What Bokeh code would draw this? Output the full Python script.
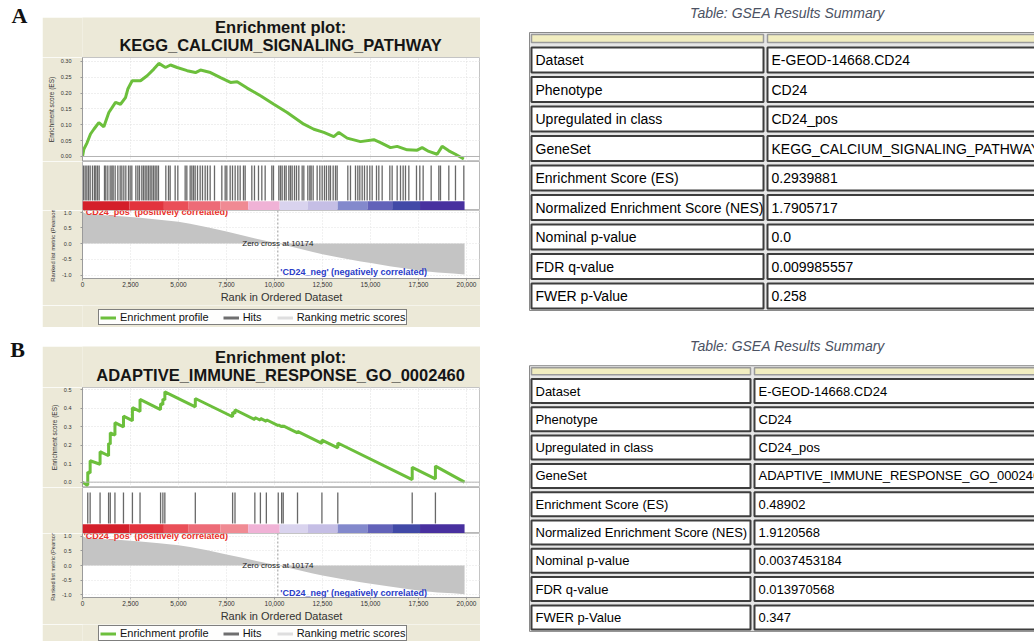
from bokeh.plotting import figure
from bokeh.layouts import column, row
from bokeh.models import (Range1d, FixedTicker, PrintfTickFormatter, NumeralTickFormatter,
                          Span, Label, Legend, LegendItem, Spacer)
from bokeh.core.properties import value
from bokeh.embed import file_html
from bokeh.resources import INLINE

# ---------------- data ----------------
rank_ticks = [0, 2500, 5000, 7500, 10000, 12500, 15000, 17500, 20000]
zero_cross = 10174

es_a_rank = [0, 69, 243, 417, 590, 851, 1111, 1372, 1719, 1979, 2240, 2361, 2587, 3021, 3368,
             3715, 3976, 4323, 4583, 4931, 5451, 5885, 6146, 6667, 7188, 7708, 8056, 8576, 9271, 9965,
             10660, 11528, 12049, 12569, 13090, 13351, 13785, 14479, 15174, 15521, 16042, 16389, 16910,
             17431, 17691, 18038, 18472, 18733, 19080, 19427, 19861]
es_a_val = [0.0, 0.023, 0.044, 0.071, 0.086, 0.107, 0.094, 0.139, 0.171, 0.165, 0.186, 0.213, 0.239, 0.239,
            0.255, 0.276, 0.294, 0.281, 0.289, 0.281, 0.271, 0.265, 0.273, 0.265, 0.249, 0.234, 0.236, 0.216,
            0.192, 0.165, 0.139, 0.102, 0.086, 0.076, 0.063, 0.076, 0.058, 0.047, 0.053, 0.044, 0.028, 0.032,
            0.021, 0.020, 0.028, 0.016, 0.007, 0.032, 0.018, 0.007, -0.008]

hits_a = [52, 139, 226, 313, 399, 521, 625, 694, 781, 868, 1146, 1215, 1319, 1441, 1528, 1597, 1701, 1840,
          1962, 2049, 2153, 2257, 2396, 2483, 2569, 2778, 2882, 2969, 3090, 3177, 3264, 3351, 3438, 3524,
          3611, 3698, 3785, 3871, 3958, 4340, 4479, 4566, 4826, 4965, 5347, 5434, 5608, 5694, 5781, 5868,
          5990, 6128, 6250, 6389, 6510, 6649, 6875, 7257, 7431, 7517, 7691, 7813, 7951, 8090, 8212, 8385,
          8472, 8819, 8958, 9167, 9340, 9514, 9861, 9948, 10226, 10313, 10399, 10521, 10608, 10747, 10833,
          10920, 11042, 11146, 11267, 11441, 11528, 11736, 11840, 11910, 12014, 12222, 12361, 12483, 12604,
          12708, 12830, 12917, 13056, 13177, 13264, 13819, 13958, 14219, 14340, 14444, 14566, 14688, 14826,
          14965, 15087, 15313, 15434, 15608, 16007, 16128, 16389, 16563, 16701, 16823, 16997, 17396, 17569,
          17743, 18160, 18559, 18646, 19080, 19427, 19861]

es_b_rank = [0, 222, 274, 274, 398, 398, 915, 915, 1359, 1359, 1447, 1447, 1690, 1690, 2134, 2134, 2600, 2600,
             2997, 2997, 4067, 4067, 4186, 4186, 4289, 4289, 5876, 5876, 7819, 7819, 7943, 7943, 8977, 8977,
             9266, 9266, 9576, 9576, 10196, 10196, 10372, 10372, 10455, 10455, 11199, 11199, 12470, 12470,
             13297, 13297, 17173, 17173, 18382, 18382, 19900]
es_b_val = [0.0, -0.015, -0.016, 0.055, 0.049, 0.116, 0.097, 0.165, 0.143, 0.21, 0.205, 0.267, 0.255, 0.322,
            0.299, 0.357, 0.333, 0.403, 0.383, 0.448, 0.393, 0.425, 0.419, 0.45, 0.445, 0.489, 0.408, 0.453,
            0.354, 0.378, 0.372, 0.392, 0.339, 0.35, 0.335, 0.345, 0.329, 0.338, 0.306, 0.31, 0.301, 0.305,
            0.301, 0.305, 0.267, 0.275, 0.21, 0.228, 0.186, 0.212, 0.014, 0.08, 0.018, 0.087, 0.0]

hits_b = [274, 398, 915, 1359, 1447, 1690, 2134, 2600, 2997, 4067, 4186, 4289, 5876, 7819, 7943, 8977, 9266,
          9576, 10196, 10372, 10455, 11199, 12470, 13297, 17173, 18382]

metric_rank = [0, 200, 1000, 2000, 3000, 4000, 5000, 5600, 6500, 7500, 8200, 9000, 10174, 11000, 12000,
               12500, 13500, 14500, 15100, 16000, 17000, 17700, 18500, 19300, 19900]
metric_val = [1.0, 0.95, 0.91, 0.87, 0.82, 0.76, 0.69, 0.63, 0.52, 0.38, 0.28, 0.16, 0.0, -0.12, -0.27,
              -0.34, -0.46, -0.57, -0.63, -0.72, -0.81, -0.87, -0.92, -0.95, -0.98]

cb_edges = [0, 2450, 4240, 5530, 7180, 8630, 10270, 11740, 13290, 14840, 16130, 17580, 19900]
cb_colors = ["#d41f2a", "#e2333d", "#ea4f58", "#ed6b77", "#f08a93", "#f0b2d6",
             "#d9d3ee", "#c5bee5", "#8389cc", "#6262b9", "#4149a7", "#48309f"]

legend_labels = ["Enrichment profile", "Hits", "Ranking metric scores"]

table_labels = ["Dataset", "Phenotype", "Upregulated in class", "GeneSet", "Enrichment Score (ES)",
                "Normalized Enrichment Score (NES)", "Nominal p-value", "FDR q-value", "FWER p-Value"]
table_a_values = ["E-GEOD-14668.CD24", "CD24", "CD24_pos", "KEGG_CALCIUM_SIGNALING_PATHWAY", "0.2939881",
                  "1.7905717", "0.0", "0.009985557", "0.258"]
table_b_values = ["E-GEOD-14668.CD24", "CD24", "CD24_pos", "ADAPTIVE_IMMUNE_RESPONSE_GO_0002460", "0.48902",
                  "1.9120568", "0.0037453184", "0.013970568", "0.347"]

# ---------------- style ----------------
BEIGE = "#ECE9D8"
GREEN = "#6cbf3c"
FONT = "Liberation Sans"
CW = 438      # chart block width
LB = 40       # left border of chart frames
XMAX = 20730
TW = 514      # table block width
NAN = float("nan")


def fig(w, h, xr, yr, **kw):
    return figure(width=w, height=h, x_range=xr, y_range=yr, toolbar_location=None,
                  output_backend="svg", **kw)


def blank(p, bg):
    p.grid.visible = False
    p.outline_line_color = None
    p.background_fill_color = bg
    p.border_fill_color = bg


def title_fig(h, t1, t2, y1, y2):
    p = fig(CW, h, Range1d(0, CW), Range1d(h, 0), x_axis_location=None, y_axis_location=None, min_border=0)
    blank(p, BEIGE)
    p.text(x=[218, 218], y=[y1, y2], text=[t1, t2], text_font=value(FONT), text_font_style="bold",
           text_font_size="16.5px", text_align="center", text_baseline="middle", text_color="#151515")
    return p


def style_yaxis(p, label, label_size):
    ax = p.yaxis[0]
    ax.axis_label = label
    ax.axis_label_text_font = FONT
    ax.axis_label_text_font_size = label_size
    ax.axis_label_text_font_style = "normal"
    ax.axis_label_text_color = "#333333"
    ax.axis_label_standoff = 3
    ax.major_label_text_font = FONT
    ax.major_label_text_font_size = "5.5px"
    ax.major_label_text_color = "#333333"
    ax.major_label_standoff = 9
    ax.major_tick_in = 0
    ax.major_tick_out = 2
    ax.minor_tick_line_color = None
    ax.axis_line_color = "#9a9a9a"
    ax.major_tick_line_color = "#9a9a9a"


def es_fig(h, xr, ylo, yhi, ranks, vals, ticks, fmt):
    p = fig(CW, h, xr, Range1d(ylo, yhi), x_axis_location=None, min_border=0, min_border_left=LB)
    p.background_fill_color = "white"
    p.border_fill_color = BEIGE
    p.outline_line_color = "#c4c4c4"
    p.yaxis.ticker = FixedTicker(ticks=ticks)
    p.yaxis.formatter = PrintfTickFormatter(format=fmt)
    style_yaxis(p, "Enrichment score (ES)", "6.5px")
    p.xgrid.ticker = FixedTicker(ticks=rank_ticks)
    p.xgrid.grid_line_color = "#dedede"
    p.xgrid.grid_line_dash = "1 2"
    p.ygrid.ticker = FixedTicker(ticks=ticks)
    p.ygrid.grid_line_color = "#dedede"
    p.ygrid.grid_line_dash = "1 2"
    p.add_layout(Span(location=0, dimension="width", line_color="#b4b4b4", line_width=1))
    p.line(ranks, vals, line_color=GREEN, line_width=3)
    return p


def hits_fig(h, xr, hits, top, bot, cbtop):
    p = fig(CW, h, xr, Range1d(0, 1), x_axis_location=None, y_axis_location=None,
            min_border=0, min_border_left=LB)
    p.grid.visible = False
    p.background_fill_color = "white"
    p.border_fill_color = BEIGE
    p.outline_line_color = "#b8b8b8"
    p.segment(x0=hits, y0=bot, x1=hits, y1=top, line_color="#202020", line_alpha=0.68, line_width=1.3)
    p.quad(left=cb_edges[:-1], right=cb_edges[1:], bottom=0, top=cbtop, fill_color=cb_colors,
           line_color=None)
    return p


def metric_fig(h, xr, ylo, yhi, bottom, ypos, yneg, label_size):
    p = fig(CW, h, xr, Range1d(ylo, yhi), min_border=0, min_border_left=LB, min_border_bottom=bottom)
    p.background_fill_color = "white"
    p.border_fill_color = BEIGE
    p.outline_line_color = "#c4c4c4"
    p.yaxis.ticker = FixedTicker(ticks=[-1, -0.5, 0, 0.5, 1])
    p.yaxis.formatter = PrintfTickFormatter(format="%.1f")
    style_yaxis(p, "Ranked list metric (Pearson)", label_size)
    ax = p.xaxis[0]
    ax.ticker = FixedTicker(ticks=rank_ticks)
    ax.formatter = NumeralTickFormatter(format="0,0")
    ax.major_label_text_font = FONT
    ax.major_label_text_font_size = "6.5px"
    ax.major_label_text_color = "#333333"
    ax.major_label_standoff = 1
    ax.major_tick_in = 0
    ax.major_tick_out = 2
    ax.minor_tick_line_color = None
    ax.axis_line_color = "#9a9a9a"
    ax.major_tick_line_color = "#9a9a9a"
    ax.axis_label = "Rank in Ordered Dataset"
    ax.axis_label_text_font = FONT
    ax.axis_label_text_font_size = "11px"
    ax.axis_label_text_font_style = "normal"
    ax.axis_label_text_color = "#333333"
    ax.axis_label_standoff = 1
    p.xgrid.ticker = FixedTicker(ticks=rank_ticks)
    p.xgrid.grid_line_color = "#e2e2e2"
    p.xgrid.grid_line_dash = "1 2"
    p.ygrid.grid_line_color = "#e2e2e2"
    p.ygrid.grid_line_dash = "1 2"
    p.varea(x=metric_rank, y1=0, y2=metric_val, fill_color="#c4c4c4")
    p.add_layout(Span(location=zero_cross, dimension="height", line_color="#9a9a9a",
                      line_dash="2 2", line_width=1))
    p.add_layout(Label(x=60, y=ypos, text="'CD24_pos' (positively correlated)", text_font=FONT,
                       text_font_size="9px", text_font_style="bold", text_color="#e8302a",
                       text_baseline="middle"))
    p.add_layout(Label(x=zero_cross, y=0, text="Zero cross at 10174", text_font=FONT,
                       text_font_size="8px", text_color="#222222", text_align="center",
                       text_baseline="middle"))
    p.add_layout(Label(x=10300, y=yneg, text="'CD24_neg' (negatively correlated)", text_font=FONT,
                       text_font_size="9px", text_font_style="bold", text_color="#2a3cc8",
                       text_baseline="middle"))
    return p


def legend_fig(h, lx, ly):
    p = fig(CW, h, Range1d(0, 1), Range1d(0, 1), x_axis_location=None, y_axis_location=None, min_border=0)
    blank(p, BEIGE)
    # invisible proxies that only carry the legend glyph styles
    r1 = p.line(x=[NAN], y=[NAN], line_color=GREEN, line_width=3)
    r2 = p.line(x=[NAN], y=[NAN], line_color="#6e6e6e", line_width=3)
    r3 = p.line(x=[NAN], y=[NAN], line_color="#dedede", line_width=3)
    leg = Legend(items=[LegendItem(label=legend_labels[0], renderers=[r1]),
                        LegendItem(label=legend_labels[1], renderers=[r2]),
                        LegendItem(label=legend_labels[2], renderers=[r3])],
                 orientation="horizontal", location=(lx, ly))
    leg.label_text_font = FONT
    leg.label_text_font_size = "11px"
    leg.label_text_color = "#111111"
    leg.glyph_width = 16
    leg.glyph_height = 11
    leg.label_height = 11
    leg.label_standoff = 4
    leg.spacing = 14
    leg.padding = 1
    leg.margin = 0
    leg.border_line_color = "black"
    leg.border_line_width = 1
    leg.background_fill_color = "white"
    p.add_layout(leg, "center")
    return p


def table_fig(h, font_size, title_y, header_y, header_h, row_y0, row_step, cell_h, lx0, lx1, rx0, values):
    p = fig(TW, h, Range1d(0, TW), Range1d(h, 0), x_axis_location=None, y_axis_location=None, min_border=0)
    blank(p, "white")
    n = len(table_labels)
    ys = [row_y0 + i * row_step for i in range(n)]
    p.quad(left=[lx0 - 2], right=[TW + 30], top=[header_y - header_h / 2 - 2],
           bottom=[ys[-1] + cell_h / 2 + 2], fill_color="#e6e6e6", line_color="#8a8a8a", line_width=1)
    p.quad(left=[lx0, rx0], right=[lx1, TW + 30], top=header_y - header_h / 2, bottom=header_y + header_h / 2,
           fill_color="#f1edc0", line_color="#9a9a9a", line_width=1.5)
    p.quad(left=[lx0] * n, right=[lx1] * n, top=[y - cell_h / 2 for y in ys], bottom=[y + cell_h / 2 for y in ys],
           fill_color="white", line_color="#3d3d3d", line_width=2)
    p.quad(left=[rx0] * n, right=[TW + 30] * n, top=[y - cell_h / 2 for y in ys],
           bottom=[y + cell_h / 2 for y in ys], fill_color="white", line_color="#3d3d3d", line_width=2)
    p.text(x=[lx0 + 4] * n, y=ys, text=table_labels, text_font=value(FONT), text_font_size=font_size,
           text_baseline="middle", text_color="#000000")
    p.text(x=[rx0 + 4] * n, y=ys, text=values, text_font=value(FONT), text_font_size=font_size,
           text_baseline="middle", text_color="#000000")
    p.text(x=[267], y=[title_y], text=["Table: GSEA Results Summary"], text_font=value(FONT),
           text_font_size="14px", text_font_style="italic", text_color="#4b5263", text_align="center",
           text_baseline="middle")
    return p


def letter_fig(h, letter, x, y):
    p = fig(42, h, Range1d(0, 42), Range1d(h, 0), x_axis_location=None, y_axis_location=None, min_border=0)
    blank(p, "white")
    p.text(x=[x], y=[y], text=[letter], text_font=value("Liberation Serif"), text_font_style="bold",
           text_font_size="22px", text_align="center", text_baseline="middle", text_color="#111111")
    return p


# ---------------- panel A ----------------
xr_a = Range1d(0, XMAX)
chart_a = column(
    Spacer(width=CW, height=17),
    title_fig(40, "Enrichment plot:", "KEGG_CALCIUM_SIGNALING_PATHWAY", 9.7, 27.7),
    es_fig(104, xr_a, -0.0158, 0.3126, es_a_rank, es_a_val, [0, 0.05, 0.1, 0.15, 0.2, 0.25, 0.3], "%.2f"),
    hits_fig(49, xr_a, hits_a, 0.92, 0.204, 0.19),
    metric_fig(95, xr_a, -1.111, 1.051, 23, 1.0, -0.92, "5.9px"),
    legend_fig(22, 16, 2),
    Spacer(width=CW, height=3),
)
row_a = row(letter_fig(330, "A", 19, 15), chart_a, Spacer(width=40, height=330),
            table_fig(330, "14px", 12.5, 38, 8, 59.5, 29.5, 25, 11, 243, 247, table_a_values))

# ---------------- panel B ----------------
xr_b = Range1d(0, XMAX)
chart_b = column(
    Spacer(width=CW, height=16),
    title_fig(41, "Enrichment plot:", "ADAPTIVE_IMMUNE_RESPONSE_GO_0002460", 10.7, 28.3),
    es_fig(100, xr_b, -0.029, 0.5125, es_b_rank, es_b_val, [0, 0.1, 0.2, 0.3, 0.4, 0.5], "%.1f"),
    hits_fig(46, xr_b, hits_b, 0.89, 0.217, 0.2),
    metric_fig(91, xr_b, -1.095, 1.095, 22, 1.0, -0.95, "5.6px"),
    legend_fig(17, 16, 0),
)
row_b = row(letter_fig(311, "B", 17, 19), chart_b, Spacer(width=40, height=311),
            table_fig(311, "13px", 15, 40.7, 7, 60.5, 28.3, 24, 11, 230, 234, table_b_values))

layout = column(row_a, row_b)
open("out.html", "w").write(file_html(layout, INLINE))
